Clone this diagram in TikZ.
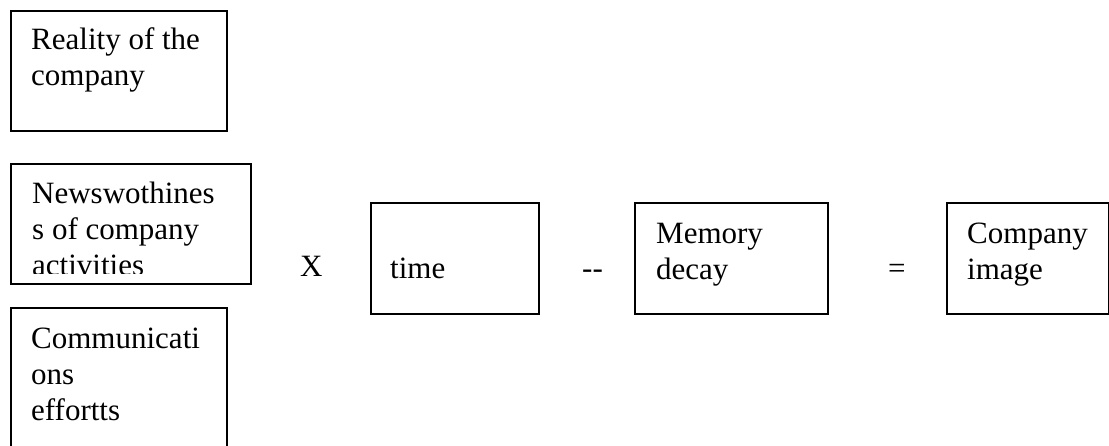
\documentclass[tikz,border=0pt]{standalone}
\usepackage{fontspec}
\setmainfont{Liberation Serif}
\begin{document}
\begin{tikzpicture}[x=1pt,y=-1pt,
  box/.style={draw, line width=1.5pt, inner sep=0pt, anchor=north west},
  txt/.style={inner sep=0pt, anchor=base west, font=\fontsize{31}{36}\selectfont}]
\useasboundingbox (0,0) rectangle (1109,445);
\clip (0,0) rectangle (1109,445);
% boxes
\node[box, minimum width=216pt, minimum height=120pt] (b1) at (10,10) {};
\node[box, minimum width=240pt, minimum height=120pt] (b2) at (10,163) {};
\node[box, minimum width=216pt, minimum height=200pt] (b3) at (10,307) {};
\node[box, minimum width=168pt, minimum height=111pt] (b4) at (370,202) {};
\node[box, minimum width=193pt, minimum height=111pt] (b5) at (634,202) {};
\node[box, minimum width=162pt, minimum height=111pt] (b6) at (946,202) {};
% texts
\node[txt] (t1) at (31,49) {\begin{tabular}[t]{@{}l@{}}Reality of the\\company\end{tabular}};
\begin{scope}
  \clip (10,163) rectangle (250,273);
  \node[txt] (t2) at (32,203) {\begin{tabular}[t]{@{}l@{}}Newswothines\\s of company\\activities\end{tabular}};
\end{scope}
\node[txt] (t3) at (31,348) {\begin{tabular}[t]{@{}l@{}}Communicati\\ons\\effortts\end{tabular}};
\node[txt] (t4) at (390,278) {time};
\node[txt] (t5) at (656,243) {\begin{tabular}[t]{@{}l@{}}Memory\\decay\end{tabular}};
\node[txt] (t6) at (967,243) {\begin{tabular}[t]{@{}l@{}}Company\\image\end{tabular}};
% operators
\node[txt] (op1) at (300,276) {X};
\node[txt] (op2) at (582,278) {-{}-};
\node[txt] (op3) at (888,278) {=};
\end{tikzpicture}
\end{document}
